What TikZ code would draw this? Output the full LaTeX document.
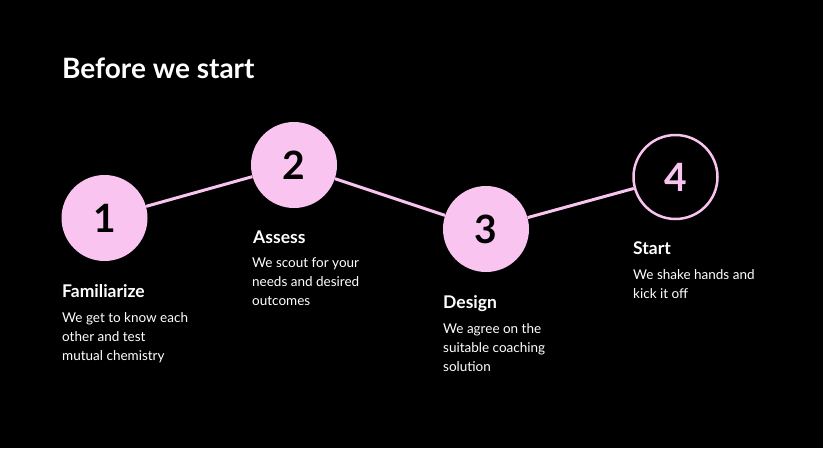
\documentclass[tikz,border=0pt]{standalone}
\usepackage{fontspec}
\setmainfont{Lato}
\definecolor{pinkc}{RGB}{250,196,240}
\newcommand{\mlines}[1]{\vtop{\halign{##\hfil\cr#1\crcr}}}
\begin{document}
\begin{tikzpicture}[x=1pt,y=-1pt,
  stepcirc/.style={circle,fill=pinkc,minimum size=86pt,inner sep=0pt,font=\fontsize{39}{39}\selectfont\bfseries,text=black},
  opencirc/.style={circle,draw=pinkc,line width=2.5pt,minimum size=84pt,inner sep=0pt,font=\fontsize{39}{39}\selectfont\bfseries,text=pinkc},
  conn/.style={draw=pinkc,line width=3pt},
  head/.style={anchor=base west,text=white,font=\fontsize{17.5}{20}\selectfont\bfseries,inner sep=0pt},
  desc/.style={anchor=base west,text=white,font=\fontsize{13.5}{19.3}\selectfont,inner sep=0pt}]
\fill[black] (0,0) rectangle (823,448);
\useasboundingbox (0,0) rectangle (823,448);
\node[anchor=base west,text=white,font=\fontsize{28}{32}\selectfont\bfseries,inner sep=0pt] (title) at (62,78) {Before we start};
\node[stepcirc] (c1) at (104.5,218) {1};
\node[stepcirc] (c2) at (294,165) {2};
\node[stepcirc] (c3) at (486,229) {3};
\node[opencirc] (c4) at (675.5,177) {4};
\draw[conn] (c1) -- (c2);
\draw[conn] (c2) -- (c3);
\draw[conn] (c3) -- (c4);
\node[head] (h1) at (62,297) {Familiarize};
\node[desc] (d1) at (62,322) {\mlines{We get to know each\cr other and test\cr mutual chemistry}};
\node[head] (h2) at (253,243) {Assess};
\node[desc] (d2) at (252,267) {\mlines{We scout for your\cr needs and desired\cr outcomes}};
\node[head] (h3) at (443,308) {Design};
\node[desc] (d3) at (443,333) {\mlines{We agree on the\cr suitable coaching\cr solution}};
\node[head] (h4) at (633,254) {Start};
\node[desc] (d4) at (633,279) {\mlines{We shake hands and\cr kick it off}};
\end{tikzpicture}
\end{document}
